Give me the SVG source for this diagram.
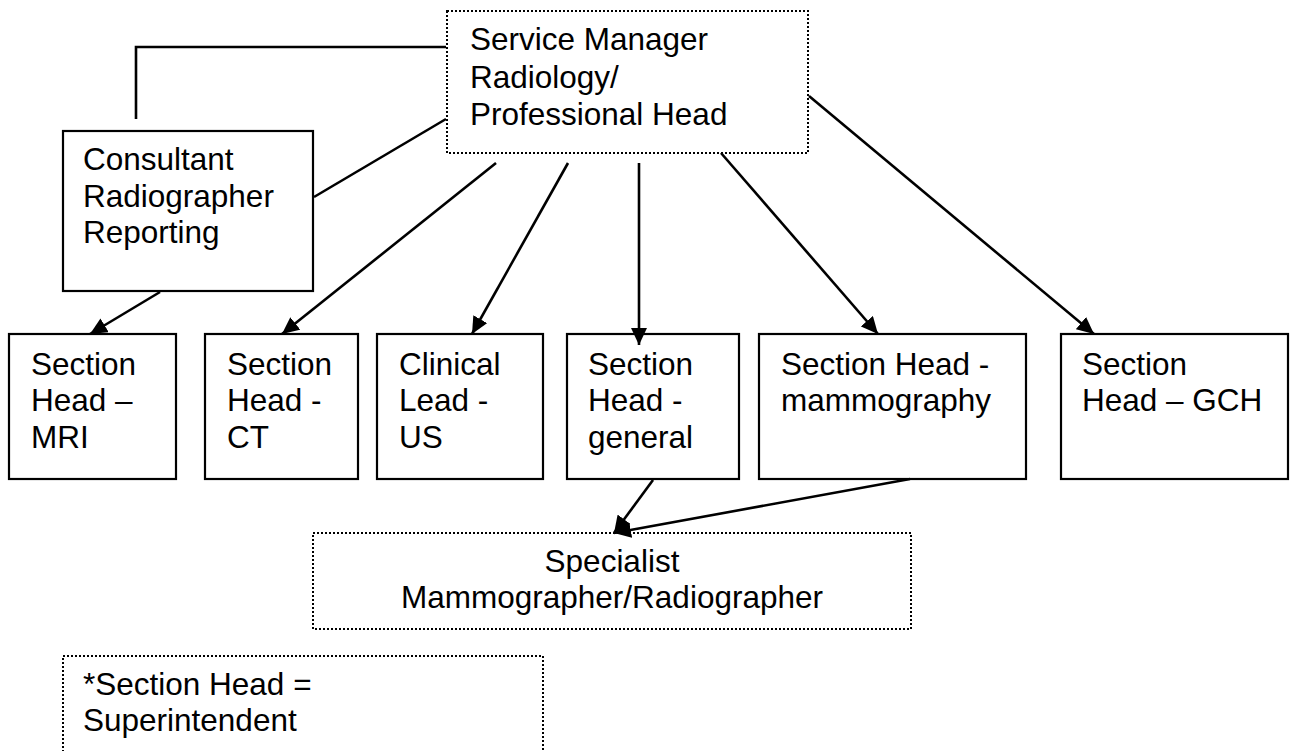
<svg xmlns="http://www.w3.org/2000/svg" width="1294" height="751" viewBox="0 0 1294 751">
<style>
  .box{fill:#fff;stroke:#000;stroke-width:2.2}
  .dot{fill:#fff;stroke:#000;stroke-width:2;stroke-dasharray:2 2}
  .t{font-family:"Liberation Sans",Arial,sans-serif;font-size:31.5px;fill:#000}
  .c{fill:none;stroke:#000;stroke-width:2.6}
  .a{marker-end:url(#ah)}
</style>
<defs>
  <marker id="ah" markerUnits="userSpaceOnUse" markerWidth="17" markerHeight="16" refX="17" refY="8" orient="auto">
    <path d="M0,0 L17,8 L0,16 z" fill="#000"/>
  </marker>
</defs>
<rect width="1294" height="751" fill="#fff"/>
<g id="service-manager">
  <rect class="dot" x="447" y="11" width="361" height="142"/>
  <text class="t" x="470" y="50">Service Manager</text>
  <text class="t" x="470" y="87.5">Radiology/</text>
  <text class="t" x="470" y="125">Professional Head</text>
</g>
<g id="consultant">
  <rect class="box" x="63" y="131" width="250" height="160"/>
  <text class="t" x="83" y="170">Consultant</text>
  <text class="t" x="83" y="207">Radiographer</text>
  <text class="t" x="83" y="243">Reporting</text>
</g>
<g id="mri">
  <rect class="box" x="9" y="334" width="167" height="145"/>
  <text class="t" x="31" y="375">Section</text>
  <text class="t" x="31" y="411">Head –</text>
  <text class="t" x="31" y="448">MRI</text>
</g>
<g id="ct">
  <rect class="box" x="205" y="334" width="153" height="145"/>
  <text class="t" x="227" y="375">Section</text>
  <text class="t" x="227" y="411">Head -</text>
  <text class="t" x="227" y="448">CT</text>
</g>
<g id="us">
  <rect class="box" x="377" y="334" width="166" height="145"/>
  <text class="t" x="399" y="375">Clinical</text>
  <text class="t" x="399" y="411">Lead -</text>
  <text class="t" x="399" y="448">US</text>
</g>
<g id="general">
  <rect class="box" x="567" y="334" width="172" height="145"/>
  <text class="t" x="588" y="375">Section</text>
  <text class="t" x="588" y="411">Head -</text>
  <text class="t" x="588" y="448">general</text>
</g>
<g id="mammography">
  <rect class="box" x="759" y="334" width="267" height="145"/>
  <text class="t" x="781" y="375">Section Head -</text>
  <text class="t" x="781" y="411">mammography</text>
</g>
<g id="gch">
  <rect class="box" x="1061" y="334" width="227" height="145"/>
  <text class="t" x="1082" y="375">Section</text>
  <text class="t" x="1082" y="411">Head – GCH</text>
</g>
<g id="specialist">
  <rect class="dot" x="313" y="533" width="598" height="96"/>
  <text class="t" x="612" y="572" text-anchor="middle">Specialist</text>
  <text class="t" x="612" y="608" text-anchor="middle">Mammographer/Radiographer</text>
</g>
<g id="footnote">
  <rect class="dot" x="63" y="656" width="480" height="110"/>
  <text class="t" x="83" y="695">*Section Head =</text>
  <text class="t" x="83" y="731">Superintendent</text>
</g>
<g id="connectors">
  <polyline class="c" points="136,119 136,47 446,47"/>
  <line class="c" x1="314" y1="197" x2="446" y2="119"/>
  <line class="c a" x1="160" y1="292" x2="90" y2="334"/>
  <line class="c a" x1="496" y1="163" x2="282" y2="334"/>
  <line class="c a" x1="568" y1="163" x2="472" y2="334"/>
  <line class="c a" x1="639" y1="163" x2="639" y2="345"/>
  <line class="c a" x1="721" y1="153" x2="878" y2="334"/>
  <line class="c a" x1="809" y1="96" x2="1094" y2="334"/>
  <line class="c a" x1="653" y1="480" x2="614" y2="533"/>
  <line class="c a" x1="910" y1="479" x2="614" y2="533"/>
</g>
</svg>
